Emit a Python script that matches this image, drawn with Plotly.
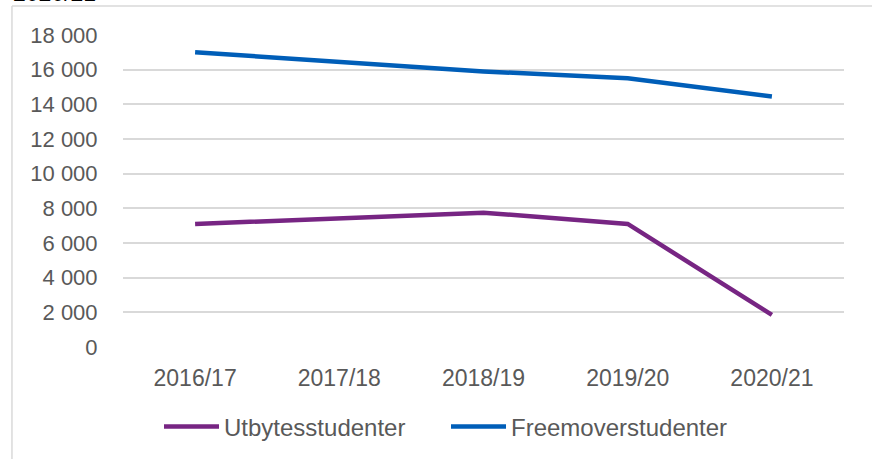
import plotly.graph_objects as go

years = ["2016/17", "2017/18", "2018/19", "2019/20", "2020/21"]
utbytes = [7100, 7450, 7750, 7100, 1850]
freemover = [17000, 16450, 15900, 15500, 14450]
y_ticks = [0, 2000, 4000, 6000, 8000, 10000, 12000, 14000, 16000, 18000]

PURPLE = "#772583"
BLUE = "#005EB8"
GRID = "#d9d9d9"
TXT = "#595959"
FONT = "Liberation Sans, Arial, sans-serif"

fig = go.Figure()
fig.add_trace(go.Scatter(x=years, y=utbytes, mode="lines", name="Utbytesstudenter",
                         line=dict(color=PURPLE, width=4.5)))
fig.add_trace(go.Scatter(x=years, y=freemover, mode="lines", name="Freemoverstudenter",
                         line=dict(color=BLUE, width=4.5)))

fig.update_layout(
    width=872, height=459,
    margin=dict(l=123, r=28, t=35, b=112, autoexpand=False),
    paper_bgcolor="white", plot_bgcolor="white",
    separators=", ",
    font=dict(family=FONT, size=22, color=TXT),
    showlegend=True,
    legend=dict(orientation="h", x=0.448, xanchor="center", y=-0.256, yanchor="middle",
                font=dict(size=24, color=TXT), itemwidth=55, entrywidth=217,
                entrywidthmode="pixels", traceorder="normal"),
    shapes=[
        dict(type="line", xref="paper", yref="paper", x0=-0.154, x1=1.1, y0=1.093, y1=1.093,
             line=dict(color=GRID, width=1.5)),
        dict(type="line", xref="paper", yref="paper", x0=-0.154, x1=-0.154, y0=1.093, y1=-0.5,
             line=dict(color=GRID, width=1.5)),
    ],
    annotations=[
        dict(text="2020/21", xref="paper", yref="paper", x=-0.155, y=1.087, xanchor="left",
             yanchor="bottom", showarrow=False, font=dict(size=23, color="#000000")),
    ],
)
fig.update_xaxes(type="category", range=[-0.5, 4.5], showgrid=False, zeroline=False,
                 showline=False, ticks="outside", ticklen=10, tickcolor="rgba(0,0,0,0)",
                 tickfont=dict(size=23, color=TXT))
fig.update_yaxes(range=[0, 18000], tickvals=y_ticks, tickformat=",d", showgrid=True,
                 gridcolor=GRID, gridwidth=1.5, zeroline=False, showline=False,
                 ticks="outside", ticklen=20, tickcolor="rgba(0,0,0,0)",
                 tickfont=dict(size=22, color=TXT))

fig.write_html("out.html", config={"displayModeBar": False},
               post_script="document.body.style.margin='0';")
